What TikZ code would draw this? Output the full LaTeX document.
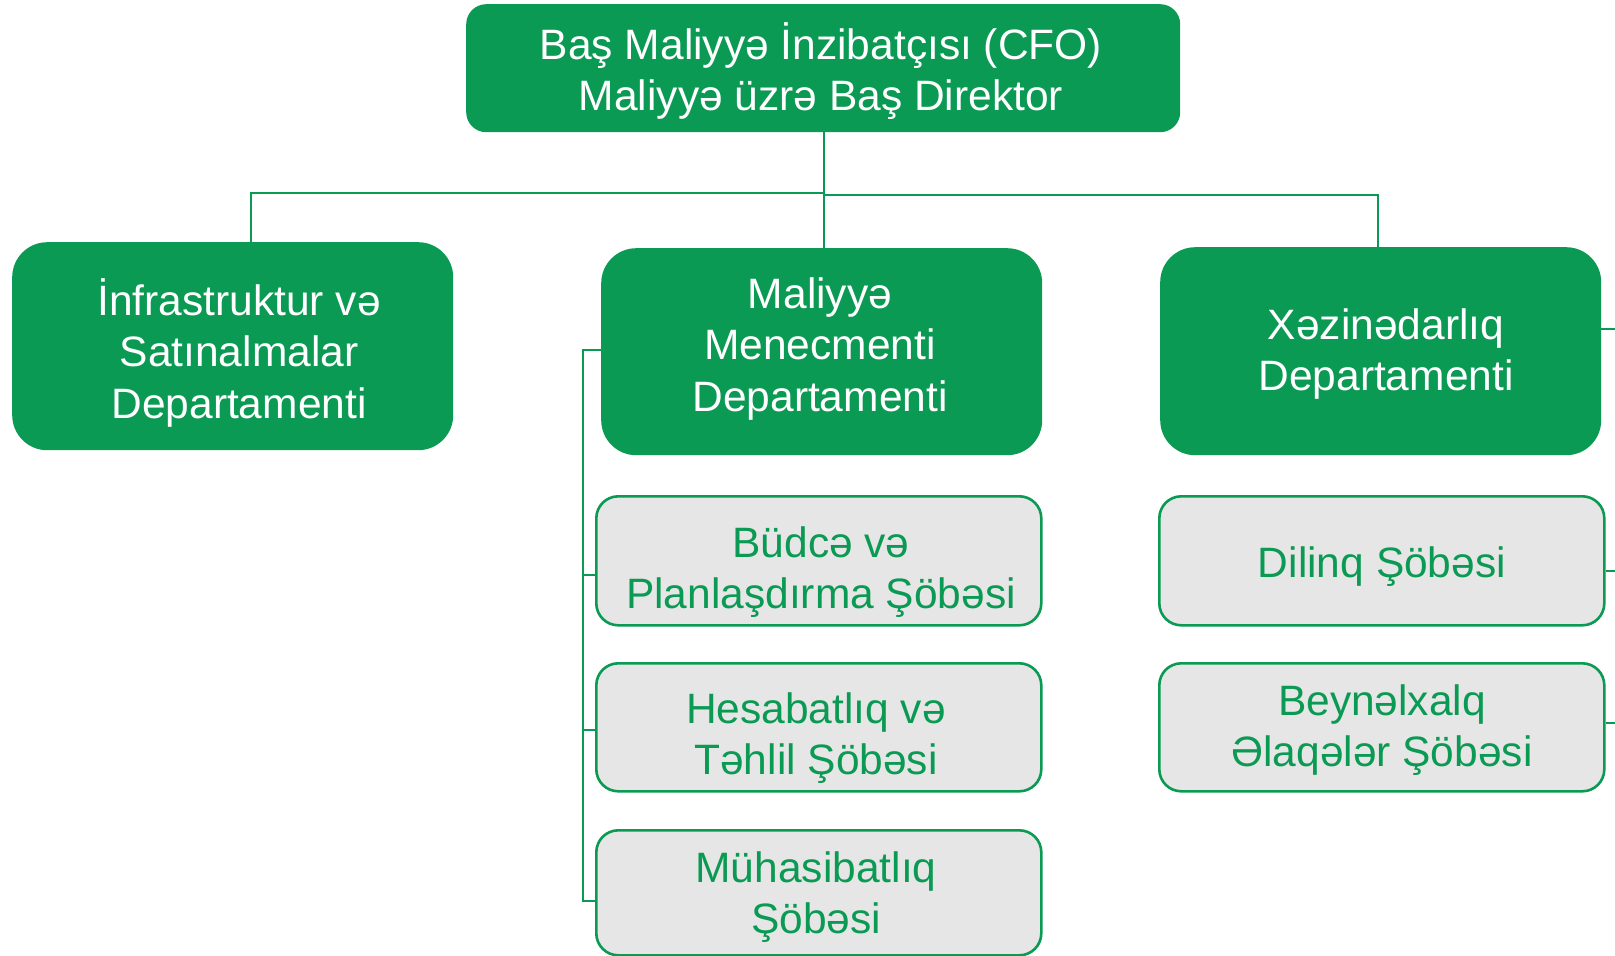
\documentclass[tikz,border=0pt]{standalone}
\usepackage{fontspec}
\setmainfont{Liberation Sans}
\definecolor{cfogreen}{RGB}{11,154,83}
\definecolor{subgray}{RGB}{230,230,230}
\tikzset{
  deptbox/.style={draw=none, fill=cfogreen, rounded corners=35pt, inner sep=0pt, anchor=north west},
  topbox/.style={draw=none, fill=cfogreen, rounded corners=20pt, inner sep=0pt, anchor=north west},
  subbox/.style={draw=cfogreen, line width=2.6pt, fill=subgray, rounded corners=22pt, inner sep=0pt, anchor=north west},
  whitetxt/.style={text=white, inner sep=0pt, anchor=base, font=\fontsize{42.5}{51.5}\selectfont},
  greentxt/.style={text=cfogreen, inner sep=0pt, anchor=base, font=\fontsize{42.5}{51.5}\selectfont},
  link/.style={draw=cfogreen, line width=1.5pt}
}
\newcommand{\boxlines}[1]{\setlength{\tabcolsep}{0pt}\begin{tabular}[t]{c}#1\end{tabular}}
\begin{document}
\begin{tikzpicture}[x=1pt,y=-1pt]
\useasboundingbox (0,0) rectangle (1615,956);
% boxes
\node[topbox, minimum width=714pt, minimum height=128pt] (cfo) at (466,4) {};
\node[deptbox, minimum width=441pt, minimum height=208pt] (infra) at (12,242) {};
\node[deptbox, minimum width=441pt, minimum height=207pt] (mm) at (601,248) {};
\node[deptbox, minimum width=441pt, minimum height=208pt] (xez) at (1160,247) {};
\node[subbox, minimum width=445pt, minimum height=129pt] (budce) at (595,495) {};
\node[subbox, minimum width=445pt, minimum height=128pt] (hesab) at (595,662) {};
\node[subbox, minimum width=445pt, minimum height=125pt] (muhas) at (595,829) {};
\node[subbox, minimum width=445pt, minimum height=129pt] (dilinq) at (1158,495) {};
\node[subbox, minimum width=445pt, minimum height=128pt] (beyn) at (1158,662) {};
% texts
\node[whitetxt] (cfot) at (821,59) {\boxlines{Baş Maliyyə İnzibatçısı (CFO)\\Maliyyə üzrə Baş Direktor}};
\node[whitetxt] (infrat) at (239,315) {\boxlines{İnfrastruktur və\\Satınalmalar\\Departamenti}};
\node[whitetxt] (mmt) at (820,308) {\boxlines{Maliyyə\\Menecmenti\\Departamenti}};
\node[whitetxt] (xezt) at (1386,339) {\boxlines{Xəzinədarlıq\\Departamenti}};
\node[greentxt] (budcet) at (821,557) {\boxlines{Büdcə və\\Planlaşdırma Şöbəsi}};
\node[greentxt] (hesabt) at (816,723) {\boxlines{Hesabatlıq və\\Təhlil Şöbəsi}};
\node[greentxt] (muhast) at (816,882) {\boxlines{Mühasibatlıq\\Şöbəsi}};
\node[greentxt] (dilinqt) at (1382,577) {\boxlines{Dilinq Şöbəsi}};
\node[greentxt] (beynt) at (1382,715) {\boxlines{Beynəlxalq\\Əlaqələr Şöbəsi}};
% connector points
\coordinate (cfobot) at (824,122);
\coordinate (hubL) at (824,193);
\coordinate (hubR) at (824,195);
\coordinate (brtop) at (583,350);
\coordinate (brbot) at (583,901);
\coordinate (edgeA) at (1615,329);
\coordinate (edgeB) at (1615,571);
\coordinate (edgeC) at (1615,723);
% connectors
\draw[link] (cfobot) -- (mm.north -| cfobot);
\draw[link] (hubL) -| (infra.north -| 251,0);
\draw[link] (hubR) -| (xez.north -| 1378,0);
\draw[link] (mm.west |- brtop) -- (brtop) -- (brbot) -- (muhas.west |- brbot);
\draw[link] (brtop |- 0,575) -- (budce.west |- 0,575);
\draw[link] (brtop |- 0,730) -- (hesab.west |- 0,730);
\draw[link] (xez.east |- edgeA) -- (edgeA);
\draw[link] (dilinq.east |- edgeB) -- (edgeB);
\draw[link] (beyn.east |- edgeC) -- (edgeC);
\end{tikzpicture}
\end{document}
